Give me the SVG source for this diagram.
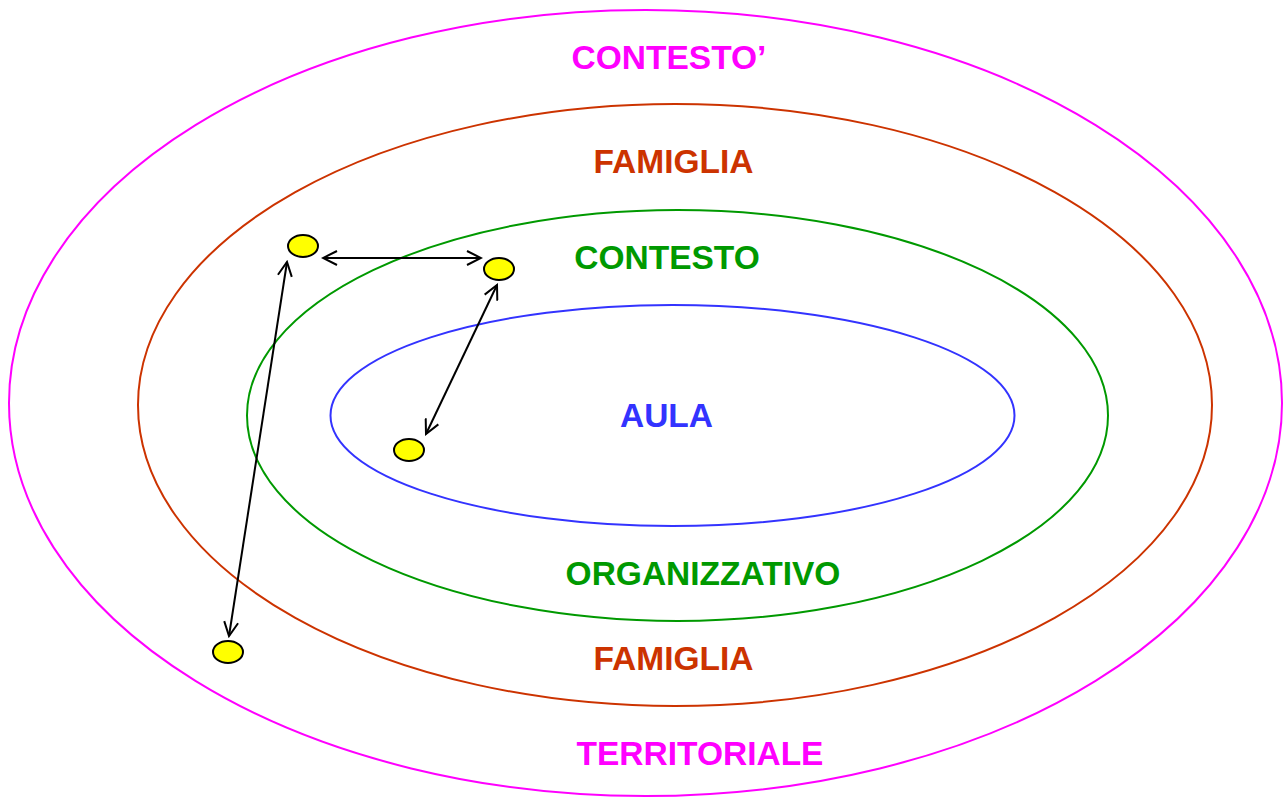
<svg xmlns="http://www.w3.org/2000/svg" width="1283" height="798" viewBox="0 0 1283 798">
<style>
.ring{fill:none;stroke-width:2}
.lbl{font-family:"Liberation Sans",Arial,sans-serif;font-weight:bold;font-size:33.5px;text-anchor:middle}
.dot{fill:#FFFF00;stroke:#000;stroke-width:2}
.conn{fill:none;stroke:#000;stroke-width:2;marker-start:url(#ah);marker-end:url(#ah)}
</style>
<defs>
<marker id="ah" viewBox="-16 -8 18 16" refX="0" refY="0" markerWidth="18" markerHeight="16" markerUnits="userSpaceOnUse" orient="auto-start-reverse">
<polyline points="-14,-7 0,0 -14,7" fill="none" stroke="#000" stroke-width="2"/>
</marker>
</defs>
<rect width="1283" height="798" fill="#fff"/>
<g id="ring-territoriale">
<ellipse class="ring" cx="645.5" cy="403" rx="636.5" ry="393" stroke="#FF00FF"/>
<text class="lbl" x="669" y="69" fill="#FF00FF">CONTESTO’</text>
<text class="lbl" x="700" y="765" fill="#FF00FF">TERRITORIALE</text>
</g>
<g id="ring-famiglia">
<ellipse class="ring" cx="675" cy="405" rx="537" ry="301" stroke="#CC3300"/>
<text class="lbl" x="673.5" y="173" fill="#CC3300">FAMIGLIA</text>
<text class="lbl" x="673.5" y="670" fill="#CC3300">FAMIGLIA</text>
</g>
<g id="ring-organizzativo">
<ellipse class="ring" cx="677.5" cy="415.5" rx="430.5" ry="205.5" stroke="#009900"/>
<text class="lbl" x="667" y="269" fill="#009900">CONTESTO</text>
<text class="lbl" x="703" y="585" fill="#009900">ORGANIZZATIVO</text>
</g>
<g id="ring-aula">
<ellipse class="ring" cx="672.5" cy="415.5" rx="342" ry="110.5" stroke="#3333FF"/>
<text class="lbl" x="666.5" y="427" fill="#3333FF">AULA</text>
</g>
<g id="connectors">
<line class="conn" x1="323" y1="258" x2="481" y2="258"/>
<line class="conn" x1="497" y1="285" x2="426" y2="434"/>
<line class="conn" x1="287" y1="262" x2="229" y2="636"/>
</g>
<g id="node-1"><ellipse class="dot" cx="303" cy="246" rx="15" ry="11"/></g>
<g id="node-2"><ellipse class="dot" cx="499" cy="269" rx="15" ry="11"/></g>
<g id="node-3"><ellipse class="dot" cx="409" cy="450" rx="15" ry="11"/></g>
<g id="node-4"><ellipse class="dot" cx="228" cy="652" rx="15" ry="11"/></g>
</svg>
